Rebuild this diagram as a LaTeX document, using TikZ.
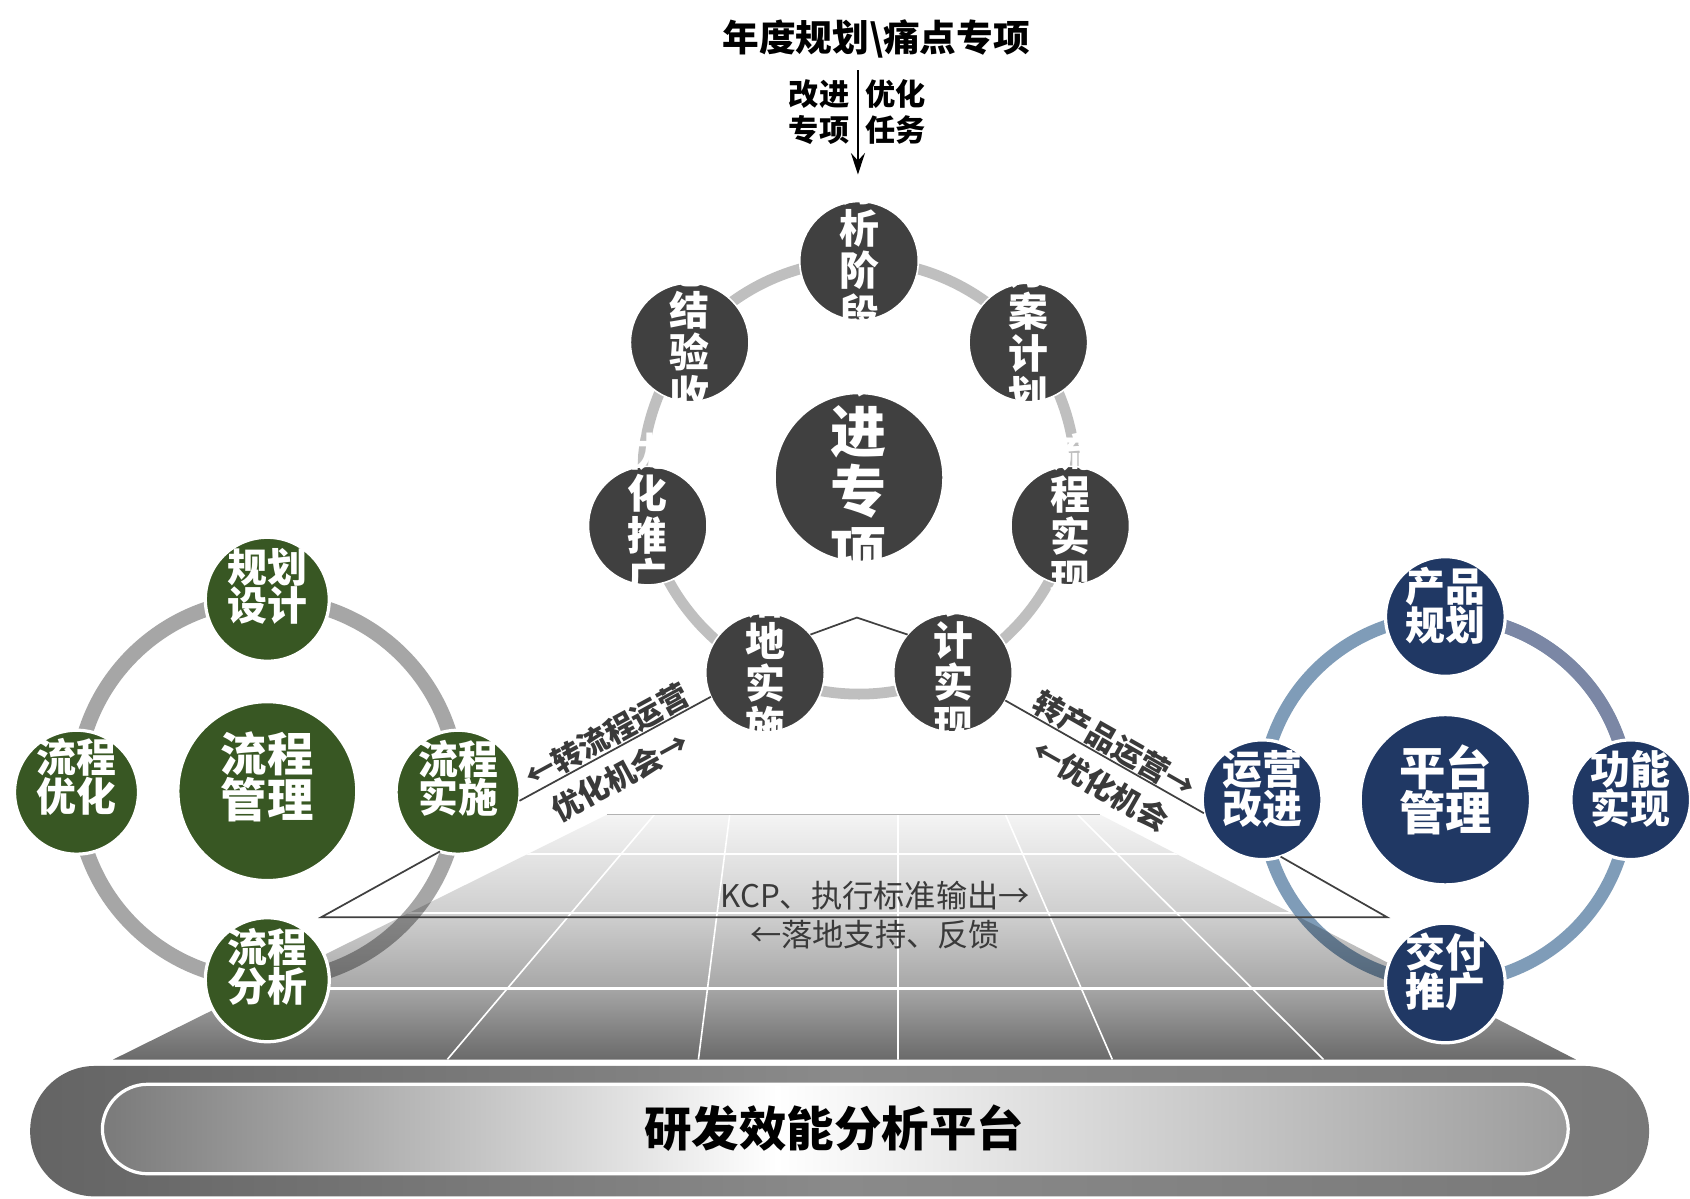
\documentclass[tikz,border=0pt]{standalone}
\usepackage{fontspec}
\setmainfont{Noto Sans CJK SC}
\usetikzlibrary{arrows.meta,calc}
\definecolor{tdark}{HTML}{404040}
\definecolor{tring}{HTML}{BFBFBF}
\definecolor{gfill}{HTML}{385723}
\definecolor{gring}{HTML}{A6A6A6}
\definecolor{bfill}{HTML}{203864}
\definecolor{bring}{HTML}{7F9CB8}
\definecolor{bringb}{HTML}{7B87A5}
\definecolor{lblc}{HTML}{3A3A3A}
\definecolor{fA}{HTML}{6A6A6A}
\definecolor{fB}{HTML}{A8A8A8}
\definecolor{fC}{HTML}{CDCDCD}
\definecolor{fD}{HTML}{F4F4F4}
\definecolor{pinL}{HTML}{7A7A7A}
\definecolor{pinR}{HTML}{9C9C9C}
\definecolor{poutL}{HTML}{646464}
\definecolor{poutM}{HTML}{8A8A8A}
\definecolor{poutR}{HTML}{787878}
\pgfdeclareverticalshading{floorsh}{100bp}{color(0bp)=(fA); color(25bp)=(fA); color(40bp)=(fB); color(54bp)=(fC); color(75bp)=(fD); color(100bp)=(fD)}
\pgfdeclarehorizontalshading{pillin}{100bp}{color(0bp)=(pinL); color(25bp)=(pinL); color(48bp)=(white); color(75bp)=(pinR); color(100bp)=(pinR)}
\pgfdeclarehorizontalshading{pillout}{100bp}{color(0bp)=(poutL); color(25bp)=(poutL); color(50bp)=(poutM); color(75bp)=(poutR); color(100bp)=(poutR)}
\begin{document}
\begin{tikzpicture}[x=1pt,y=-1pt,
  every node/.style={inner sep=0pt, outer sep=0pt},
  tnode/.style={circle, fill=tdark, draw=white, line width=1.5pt, minimum size=110pt},
  tbig/.style={circle, fill=tdark, draw=white, line width=1.5pt, minimum size=156pt},
  gnode/.style={circle, fill=gfill, draw=white, line width=3pt, minimum size=115pt},
  gbig/.style={circle, fill=gfill, draw=white, line width=3pt, minimum size=166pt},
  bnode/.style={circle, fill=bfill, draw=white, line width=3pt, minimum size=111pt},
  bbig/.style={circle, fill=bfill, draw=white, line width=3pt, minimum size=158pt},
  vt/.style={text=white, align=center, font=\bfseries\fontsize{37pt}{39pt}\selectfont},
  vtbig/.style={text=white, align=center, font=\bfseries\fontsize{52pt}{56pt}\selectfont},
  ct/.style={text=white, align=center, font=\bfseries\fontsize{37pt}{36pt}\selectfont},
  ctbig/.style={text=white, align=center, font=\bfseries\fontsize{43pt}{41pt}\selectfont},
  lbl/.style={text=lblc, font=\bfseries\fontsize{28pt}{30pt}\selectfont},
  flt/.style={text=lblc, font=\fontsize{29pt}{30pt}\selectfont},
  conn/.style={draw=tdark, line width=1.6pt}
]
\fill[white] (0,0) rectangle (1568,1112);
\useasboundingbox (0,0) rectangle (1568,1112);

% ---------- floor ----------
\shade[shading=floorsh] (563,756) -- (1021,756) -- (1462,983) -- (105,983) -- cycle;
\begin{scope}
  \clip (563,756) -- (1021,756) -- (1462,983) -- (105,983) -- cycle;
  \draw[white, line width=1.5pt] (607,756) -- (415,983);
  \draw[white, line width=1.5pt] (677,756) -- (648,983);
  \draw[white, line width=1.5pt] (833,756) -- (833,983);
  \draw[white, line width=1.5pt] (933,756) -- (1032,983);
  \draw[white, line width=1.5pt] (1000,756) -- (1228,983);
  \draw[white, line width=2pt] (0,792) -- (1568,792);
  \draw[white, line width=1.5pt] (0,847) -- (1568,847);
  \draw[white, line width=3pt] (0,917) -- (1568,917);
\end{scope}
\draw[gray!60, line width=1pt] (563,756) -- (1021,756);

% ---------- platform bar ----------
\shade[shading=pillout, rounded corners=60pt] (28,989) rectangle (1530,1110);
\shadedraw[shading=pillin, draw=white, line width=3pt, rounded corners=42pt] (95,1006) rectangle (1455,1089);
\node[font=\bfseries\fontsize{44pt}{46pt}\selectfont] (plat) at (774,1047) {研发效能分析平台};

% ---------- rings ----------
\draw[tring, line width=10pt] (797,443) circle[radius=201pt];
\begin{scope}[blend mode=multiply]
  \draw[gring, line width=14pt] (248,733) circle[radius=177pt];
  \draw[bring, line width=12pt] (1341,742) circle[radius=170pt];
\end{scope}
\begin{scope}
  \clip (1341,742) rectangle (1568,540);
  \draw[bringb, line width=12.5pt] (1341,742) circle[radius=170pt];
\end{scope}

% ---------- top cluster ----------
\node[tbig]  (tM) at (797,443) {};
\node[tnode] (tA) at (797,242) {};
\node[tnode] (tB) at (954.1,317.7) {};
\node[tnode] (tC) at (993.0,487.7) {};
\node[tnode] (tD) at (884.2,624.1) {};
\node[tnode] (tE) at (709.8,624.1) {};
\node[tnode] (tF) at (601.0,487.7) {};
\node[tnode] (tG) at (639.9,317.7) {};
\node[vtbig] (tMt) at ([yshift=15pt]tM.center) {改\\进\\专\\项};
\node[vt] (tAt) at ([yshift=10pt]tA.center) {分\\析\\阶\\段};
\node[vt] (tBt) at ([yshift=10pt]tB.center) {方\\案\\计\\划};
\node[vt] (tCt) at ([yshift=10pt]tC.center) {流\\程\\实\\现};
\node[vt] (tDt) at ([yshift=10pt]tD.center) {设\\计\\实\\现};
\node[vt] (tEt) at ([yshift=10pt]tE.center) {落\\地\\实\\施};
\node[vt] (tFt) at ([yshift=10pt]tF.center) {优\\化\\推\\广};
\node[vt] (tGt) at ([yshift=10pt]tG.center) {总\\结\\验\\收};

% small tent between bottom nodes
\coordinate (tent) at (795,573);
\draw[conn] (tE.40) -- (tent) -- (tD.140);

% ---------- title and arrow ----------
\node[font=\bfseries\fontsize{34pt}{36pt}\selectfont] (title) at (813,36) {年度规划\textbackslash 痛点专项};
\coordinate (arrA) at (796,65);
\coordinate (arrB) at (796,162);
\draw[black, line width=2pt, -{Stealth[length=20pt, width=13pt, inset=7pt]}] (arrA) -- (arrB);
\node[anchor=east, align=right, font=\bfseries\fontsize{28pt}{33pt}\selectfont] (lblL) at (788,104) {改进\\专项};
\node[anchor=west, align=left, font=\bfseries\fontsize{28pt}{33pt}\selectfont] (lblR) at (803,104) {优化\\任务};

% ---------- left cluster ----------
\node[gbig]  (lM) at (248,734) {};
\node[gnode] (lA) at (248,556) {};
\node[gnode] (lB) at (425,735) {};
\node[gnode] (lC) at (248,909) {};
\node[gnode] (lD) at (71,735) {};
\node[ctbig] (lMt) at ([yshift=13pt]lM.center) {流程\\管理};
\node[ct] (lAt) at ([yshift=12pt]lA.center) {规划\\设计};
\node[ct] (lBt) at ([yshift=13pt]lB.center) {流程\\实施};
\node[ct] (lCt) at ([yshift=12pt]lC.center) {流程\\分析};
\node[ct] (lDt) at ([yshift=14pt]lD.center) {流程\\优化};

% ---------- right cluster ----------
\node[bbig]  (rM) at (1341,742) {};
\node[bnode] (rA) at (1341,572) {};
\node[bnode] (rB) at (1513,742) {};
\node[bnode] (rC) at (1341,912) {};
\node[bnode] (rD) at (1171,742) {};
\node[ctbig] (rMt) at ([yshift=9pt]rM.center) {平台\\管理};
\node[ct] (rAt) at ([yshift=10pt]rA.center) {产品\\规划};
\node[ct] (rBt) at ([yshift=10pt]rB.center) {功能\\实现};
\node[ct] (rCt) at ([yshift=10pt]rC.center) {交付\\推广};
\node[ct] (rDt) at ([yshift=10pt]rD.center) {运营\\改进};

% ---------- connectors ----------
\coordinate (tzL) at (298,851);
\coordinate (tzR) at (1287,851);
\draw[conn] (lB.253) -- (tzL) -- (tzR) -- (rD.-72);

\draw[conn] (lB.-8) --
  node[lbl, sloped, above=1pt, pos=0.495] (lbl1) {←转流程运营}
  node[lbl, sloped, below=11pt, pos=0.46] (lbl2) {优化机会→}
  (tE.204);
\draw[conn] (tD.-28) --
  node[lbl, sloped, above=1pt, pos=0.513] (lbl3) {转产品运营→}
  node[lbl, sloped, below=11pt, pos=0.545] (lbl4) {←优化机会}
  (rD.193);

% ---------- floor texts ----------
\node[flt] (kcp) at (812,831) {KCP、执行标准输出→};
\node[flt] (fdbk) at (812,867) {←落地支持、反馈};
\end{tikzpicture}
\end{document}
